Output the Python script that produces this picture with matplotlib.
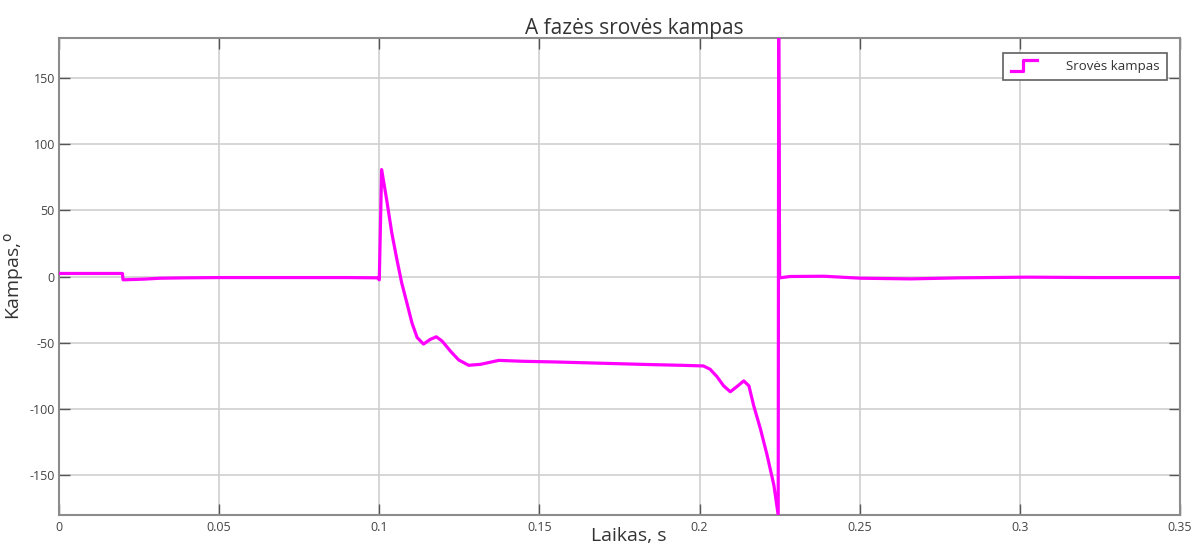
import matplotlib
matplotlib.use("Agg")
import matplotlib.pyplot as plt
from matplotlib.legend_handler import HandlerLine2D
from matplotlib.lines import Line2D

# time, s
t = [0.0, 0.0198, 0.0200, 0.0264, 0.0316, 0.0400, 0.0503, 0.0700, 0.0900, 0.0995,
     0.1000, 0.10073, 0.1023, 0.1039, 0.1055, 0.1070, 0.1086, 0.1102, 0.1118, 0.1138,
     0.1159, 0.1178, 0.1196, 0.1222, 0.1248, 0.1279, 0.1316, 0.1373, 0.1450, 0.1550,
     0.1700, 0.1850, 0.1940, 0.2012, 0.2033, 0.2054, 0.2075, 0.2096, 0.2117, 0.2138,
     0.2154, 0.2169, 0.2190, 0.2211, 0.2232, 0.22455, 0.2247, 0.2250, 0.2283, 0.2388,
     0.2503, 0.2659, 0.2816, 0.3024, 0.3231, 0.35]
# current angle, degrees
angle = [2.3, 2.3, -2.5, -2.0, -1.3, -1.0, -0.8, -0.8, -0.8, -1.0,
         -2.5, 80.7, 58.0, 33.0, 12.8, -4.8, -19.8, -35.0, -46.0, -51.0,
         -47.5, -45.5, -48.7, -56.3, -63.0, -67.0, -66.3, -63.3, -64.0, -64.5,
         -65.5, -66.5, -67.0, -67.5, -70.0, -75.5, -82.5, -87.0, -83.0, -78.8,
         -82.5, -97.5, -115.0, -135.0, -157.5, -180.0, 180.0, -1.0, 0.0, 0.2,
         -1.3, -1.8, -1.0, -0.5, -0.8, -0.8]

xticks = [0, 0.05, 0.1, 0.15, 0.2, 0.25, 0.3, 0.35]
xtick_labels = ["0", "0.05", "0.1", "0.15", "0.2", "0.25", "0.3", "0.35"]
yticks = [-150, -100, -50, 0, 50, 100, 150]


class StairHandler(HandlerLine2D):
    # legend handle drawn as a small step, like matlab stairs
    def create_artists(self, legend, orig_handle, xdescent, ydescent,
                       width, height, fontsize, trans):
        x0 = -xdescent
        x1 = x0 + width
        xm = x0 + 0.45 * width
        ylo = -ydescent - 0.15 * height
        yhi = -ydescent + 1.05 * height
        line = Line2D([x0, xm, xm, x1], [ylo, ylo, yhi, yhi])
        self.update_prop(line, orig_handle, legend)
        line.set_transform(trans)
        return [line]


plt.rcParams["font.family"] = ["Open Sans", "DejaVu Sans"]
plt.rcParams["axes.unicode_minus"] = False

fig = plt.figure(figsize=(11.97, 5.47), dpi=100)
ax = fig.add_axes([59 / 1197, 32 / 547, 1121 / 1197, 477 / 547])

ln, = ax.plot(t, angle, color="#ff00ff", lw=2.3, solid_joinstyle="round",
              label="Srovės kampas", zorder=3)

ax.set_xlim(0, 0.35)
ax.set_ylim(-180, 180)
ax.set_xticks(xticks)
ax.set_xticklabels(xtick_labels)
ax.set_yticks(yticks)

ax.grid(True, color="#cfcfcf", lw=1.2)
ax.set_axisbelow(True)
for s in ax.spines.values():
    s.set_color("#8c8c8c")
    s.set_linewidth(1.5)
ax.tick_params(direction="in", length=8, width=1, color="#555555",
               top=True, right=True, labelsize=9, labelcolor="#444444")
ax.tick_params(axis="x", pad=4)
ax.tick_params(axis="y", pad=3)

ax.set_title("A fazės srovės kampas", fontsize=15, color="#333333",
             x=(634 - 59) / 1121, pad=3)
ax.set_xlabel("Laikas, s", fontsize=14, color="#333333")
ax.xaxis.set_label_coords((629 - 59) / 1121, -0.055)
ax.xaxis.label.set_va("baseline")
ax.set_ylabel(r"Kampas,$^{\mathrm{o}}$", fontsize=14, color="#333333")
ax.yaxis.set_label_coords(-0.029, 0.5)

leg = ax.legend(handles=[ln], loc="upper right",
                bbox_to_anchor=((1167 - 59) / 1121, (515 - 52.7) / 477),
                borderaxespad=0, fancybox=False, framealpha=1,
                edgecolor="#606060", fontsize=9.5, handlelength=2.0,
                handletextpad=2.2, borderpad=0.55,
                handler_map={Line2D: StairHandler()})
leg.get_frame().set_linewidth(1.2)
for txt in leg.get_texts():
    txt.set_color("#333333")

fig.savefig("out.png", dpi=100)
